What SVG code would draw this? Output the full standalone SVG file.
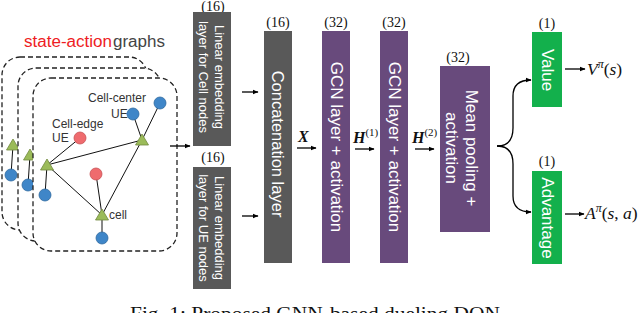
<svg xmlns="http://www.w3.org/2000/svg" width="640" height="313" viewBox="0 0 640 313">
<defs>
<marker id="ah" viewBox="0 0 10 10" refX="9" refY="5" markerWidth="6" markerHeight="6" markerUnits="userSpaceOnUse" orient="auto">
<path d="M0,1 L10,5 L0,9 Z" fill="#000"/>
</marker>
<style>
.frame{fill:#fff;stroke:#222;stroke-width:1.3;stroke-dasharray:5,3}
.edge{stroke:#111;stroke-width:1;fill:none}
.tri{fill:#9bbb59;stroke:#71893f;stroke-width:0.8}
.blue{fill:#3f86c8;stroke:#2e6aa0;stroke-width:0.8}
.red{fill:#ef6b6e;stroke:#c85054;stroke-width:0.8}
.lbl{font-family:"Liberation Sans",Arial,sans-serif;font-size:12px;fill:#333}
.gray{fill:#595959}
.purple{fill:#684a7c}
.green{fill:#13b04c}
.bt{font-family:"Liberation Sans",Arial,sans-serif;fill:#fff;text-anchor:middle;dominant-baseline:central}
.dim{font-family:"Liberation Serif","Times New Roman",serif;font-size:14px;fill:#111;text-anchor:middle}
.math{font-family:"Liberation Serif","Times New Roman",serif;fill:#111}
.arr{stroke:#000;stroke-width:1.3;fill:none;marker-end:url(#ah)}
</style>
</defs>
<rect width="640" height="313" fill="#fff"/>

<g id="graphs">
<text x="24" y="47" font-family="'Liberation Sans',Arial,sans-serif" font-size="16" fill="#ee1c24" textLength="88" lengthAdjust="spacingAndGlyphs">state-action</text>
<text x="113" y="47" font-family="'Liberation Sans',Arial,sans-serif" font-size="16" fill="#444" textLength="52" lengthAdjust="spacingAndGlyphs">graphs</text>
<rect class="frame" x="2" y="57" width="145" height="173" rx="18"/>
<line class="edge" x1="13" y1="145" x2="11" y2="175"/>
<polygon class="tri" points="13,139 6.5,150 19.5,150"/>
<circle class="blue" cx="11" cy="175" r="6"/>
<rect class="frame" x="18" y="68" width="143" height="173" rx="18"/>
<line class="edge" x1="30" y1="155" x2="28" y2="185"/>
<polygon class="tri" points="30,149 23.5,160 36.5,160"/>
<circle class="blue" cx="28" cy="185" r="6"/>
<rect class="frame" x="33" y="78" width="144" height="173" rx="18"/>
<g id="graph-edges">
<line class="edge" x1="47" y1="165" x2="80" y2="138"/>
<line class="edge" x1="47" y1="165" x2="142" y2="140"/>
<line class="edge" x1="47" y1="165" x2="102" y2="215"/>
<line class="edge" x1="47" y1="165" x2="45" y2="195"/>
<line class="edge" x1="142" y1="140" x2="133" y2="114"/>
<line class="edge" x1="142" y1="140" x2="160" y2="103"/>
<line class="edge" x1="142" y1="140" x2="102" y2="215"/>
<line class="edge" x1="102" y1="215" x2="96" y2="174"/>
<line class="edge" x1="102" y1="215" x2="102" y2="238" stroke-width="1.6"/>
</g>
<polygon class="tri" points="47,159 40.5,170 53.5,170"/>
<polygon class="tri" points="142,134 135.5,145 148.5,145"/>
<polygon class="tri" points="102,209 95.5,220 108.5,220"/>
<circle class="red" cx="80" cy="138" r="6"/>
<circle class="red" cx="96" cy="174" r="6"/>
<circle class="blue" cx="133" cy="114" r="6"/>
<circle class="blue" cx="160" cy="103" r="6"/>
<circle class="blue" cx="45" cy="195" r="6"/>
<circle class="blue" cx="102" cy="238" r="6"/>
<text class="lbl" x="88" y="102">Cell-center</text>
<text class="lbl" x="111" y="118">UE</text>
<text class="lbl" x="52" y="128">Cell-edge</text>
<text class="lbl" x="52" y="142">UE</text>
<text class="lbl" x="109" y="219">cell</text>
</g>

<g id="linear-cell">
<text class="dim" x="213" y="10.5" font-size="13">(16)</text>
<rect class="gray" x="193" y="12" width="38" height="134"/>
<text class="bt" font-size="13" transform="translate(212,77) rotate(90)"><tspan x="0" y="-8">Linear embedding</tspan><tspan x="0" y="8">layer for Cell nodes</tspan></text>
</g>
<g id="linear-ue">
<text class="dim" x="213" y="162">(16)</text>
<rect class="gray" x="193" y="167" width="38" height="122"/>
<text class="bt" font-size="13" transform="translate(212,228) rotate(90)"><tspan x="0" y="-8">Linear embedding</tspan><tspan x="0" y="8">layer for UE nodes</tspan></text>
</g>
<g id="concat">
<text class="dim" x="278" y="27">(16)</text>
<rect class="gray" x="264" y="31" width="28" height="232"/>
<text class="bt" font-size="16.5" transform="translate(278,144) rotate(90)">Concatenation layer</text>
</g>
<g id="gcn1">
<text class="dim" x="336" y="27">(32)</text>
<rect class="purple" x="322" y="31" width="28" height="232"/>
<text class="bt" font-size="17" transform="translate(336,147) rotate(90)">GCN layer + activation</text>
</g>
<g id="gcn2">
<text class="dim" x="394" y="27">(32)</text>
<rect class="purple" x="380" y="31" width="28" height="232"/>
<text class="bt" font-size="17" transform="translate(394,147) rotate(90)">GCN layer + activation</text>
</g>
<g id="pooling">
<text class="dim" x="458" y="62">(32)</text>
<rect class="purple" x="440" y="66" width="50" height="166"/>
<text class="bt" font-size="17" transform="translate(462,148) rotate(90)"><tspan x="0" y="-10">Mean pooling +</tspan><tspan x="0" y="10">activation</tspan></text>
</g>
<g id="value">
<text class="dim" x="547" y="28">(1)</text>
<rect class="green" x="532" y="32" width="30" height="75"/>
<text class="bt" font-size="17" transform="translate(547,70) rotate(90)">Value</text>
</g>
<g id="advantage">
<text class="dim" x="547" y="166">(1)</text>
<rect class="green" x="532" y="171" width="30" height="93"/>
<text class="bt" font-size="17" transform="translate(547,218) rotate(90)">Advantage</text>
</g>

<g id="connectors">
<line class="arr" x1="170" y1="146" x2="190" y2="146"/>
<line class="arr" x1="242" y1="92" x2="258" y2="92"/>
<line class="arr" x1="242" y1="216" x2="258" y2="216"/>
<line class="arr" x1="297" y1="148" x2="316" y2="148"/>
<line class="arr" x1="355" y1="149" x2="374" y2="149"/>
<line class="arr" x1="415" y1="149" x2="434" y2="149"/>
<path class="arr" d="M497,146 C508,146 513,140 513,128 L513,96 C513,86 518,80 531,80"/>
<path class="arr" d="M497,146 C508,146 513,152 513,164 L513,196 C513,206 518,212 531,212"/>
<line class="arr" x1="565" y1="69" x2="585" y2="69"/>
<line class="arr" x1="565" y1="214" x2="584" y2="214"/>
</g>

<g id="math-labels">
<text class="math" x="298" y="142" font-size="16" font-weight="bold" font-style="italic">X</text>
<text class="math" x="353" y="143" font-size="16" font-weight="bold" font-style="italic">H<tspan font-size="11" font-weight="normal" font-style="normal" dy="-7">(1)</tspan></text>
<text class="math" x="412" y="143" font-size="16" font-weight="bold" font-style="italic">H<tspan font-size="11" font-weight="normal" font-style="normal" dy="-7">(2)</tspan></text>
<text class="math" x="587" y="75" font-size="17.5"><tspan font-style="italic">V</tspan><tspan font-size="12" font-style="italic" dy="-7">π</tspan><tspan dy="7">(</tspan><tspan font-style="italic">s</tspan>)</text>
<text class="math" x="585" y="219" font-size="17.5"><tspan font-style="italic">A</tspan><tspan font-size="12" font-style="italic" dy="-7">π</tspan><tspan dy="7">(</tspan><tspan font-style="italic">s</tspan>, <tspan font-style="italic">a</tspan>)</text>
</g>

<text x="130" y="320" font-family="'Liberation Serif','Times New Roman',serif" font-size="18" fill="#111" textLength="370" lengthAdjust="spacingAndGlyphs">Fig. 1: Proposed GNN-based dueling DQN</text>
</svg>
